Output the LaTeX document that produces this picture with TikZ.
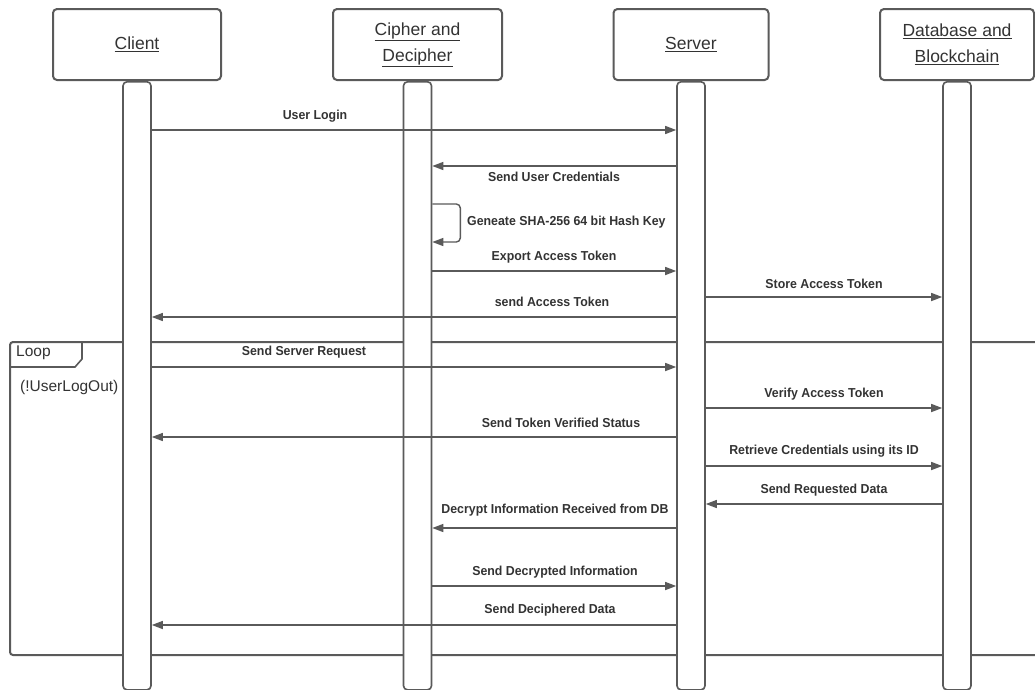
\documentclass[tikz,border=0pt]{standalone}
\usepackage{fontspec}
\setmainfont{Liberation Sans}
\newfontfamily\msgfont[FakeStretch=0.95]{Liberation Sans}
\usetikzlibrary{arrows.meta}
\definecolor{lnclr}{HTML}{5A5A5A}
\definecolor{txclr}{HTML}{333333}
\tikzset{
  head/.style={draw=lnclr, line width=2pt, rounded corners=4pt, fill=white,
    minimum height=71pt, align=center, text=txclr,
    font=\fontsize{17.5}{26}\selectfont},
  lifebar/.style={draw=lnclr, line width=1.6pt, rounded corners=4pt, fill=white,
    minimum width=28pt, minimum height=608pt, anchor=north},
  msg/.style={draw=lnclr, line width=1.4pt},
  msglbl/.style={text=txclr, inner sep=0pt,
    font=\msgfont\bfseries\fontsize{13}{15}\selectfont},
  frametxt/.style={text=txclr, inner sep=0pt, anchor=west,
    font=\fontsize{15.5}{18}\selectfont},
}
\begin{document}
\begin{tikzpicture}[>={Triangle[length=11pt,width=8pt]},x=1pt,y=-1pt]
  \fill[white] (0,0) rectangle (1035,689);
  \useasboundingbox (0,0) rectangle (1035,689);
  % actors
  \node[head, minimum width=168pt] (client) at (137,44.5) {\underline{Client}};
  \node[head, minimum width=169pt] (cipher) at (417.5,44.5) {\underline{Cipher and}\\\underline{Decipher}};
  \node[head, minimum width=155pt] (server) at (691,44.5) {\underline{Server}};
  \node[head, minimum width=154pt] (db) at (957,44.5) {\underline{Database and}\\\underline{Blockchain}};
  % loop fragment
  \draw[lnclr, line width=2pt, rounded corners=3pt] (1035,342) -- (10,342) -- (10,655) -- (1035,655);
  \draw[lnclr, line width=1.6pt] (10,367) -- (75,367) -- (82,359) -- (82,342);
  \node[frametxt] (looplbl) at (16,353) {Loop};
  \node[frametxt] (loopcond) at (20,387) {(!UserLogOut)};
  % lifelines
  \foreach \n in {client,cipher,server,db}
    \node[lifebar] (\n bar) at (\n.south) {};
  % messages
  \draw[msg,->] (clientbar.east |- 0,130) -- (serverbar.west |- 0,130);
  \node[msglbl] (m1) at (315,116) {User Login};
  \draw[msg,->] (serverbar.west |- 0,166) -- (cipherbar.east |- 0,166);
  \node[msglbl] (m2) at (554,177) {Send User Credentials};
  \draw[msg,->,rounded corners=4pt] (cipherbar.east |- 0,204) -- ++(28,0) -- ++(0,38) -- (cipherbar.east |- 0,242);
  \node[msglbl, anchor=west] (m3) at (467,222) {Geneate SHA-256 64 bit Hash Key};
  \draw[msg,->] (cipherbar.east |- 0,271) -- (serverbar.west |- 0,271);
  \node[msglbl] (m4) at (554,257) {Export Access Token};
  \draw[msg,->] (serverbar.east |- 0,297) -- (dbbar.west |- 0,297);
  \node[msglbl] (m5) at (824,284) {Store Access Token};
  \draw[msg,->] (serverbar.west |- 0,317) -- (clientbar.east |- 0,317);
  \node[msglbl] (m6) at (552,302) {send Access Token};
  \draw[msg,->] (clientbar.east |- 0,367) -- (serverbar.west |- 0,367);
  \node[msglbl] (m7) at (304,352) {Send Server Request};
  \draw[msg,->] (serverbar.east |- 0,408) -- (dbbar.west |- 0,408);
  \node[msglbl] (m8) at (824,394) {Verify Access Token};
  \draw[msg,->] (serverbar.west |- 0,437) -- (clientbar.east |- 0,437);
  \node[msglbl] (m9) at (561,423) {Send Token Verified Status};
  \draw[msg,->] (serverbar.east |- 0,466) -- (dbbar.west |- 0,466);
  \node[msglbl] (m10) at (824,451) {Retrieve Credentials using its ID};
  \draw[msg,->] (dbbar.west |- 0,504) -- (serverbar.east |- 0,504);
  \node[msglbl] (m11) at (824,490) {Send Requested Data};
  \draw[msg,->] (serverbar.west |- 0,528) -- (cipherbar.east |- 0,528);
  \node[msglbl] (m12) at (555,510) {Decrypt Information Received from DB};
  \draw[msg,->] (cipherbar.east |- 0,586) -- (serverbar.west |- 0,586);
  \node[msglbl] (m13) at (555,572) {Send Decrypted Information};
  \draw[msg,->] (serverbar.west |- 0,625) -- (clientbar.east |- 0,625);
  \node[msglbl] (m14) at (550,610) {Send Deciphered Data};
\end{tikzpicture}
\end{document}
